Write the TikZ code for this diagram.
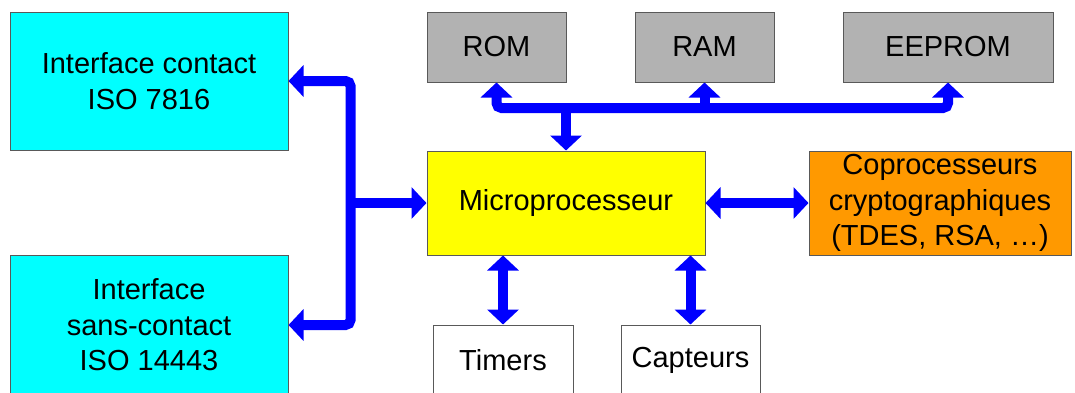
\documentclass[tikz,border=0pt]{standalone}
\usepackage{fontspec}
\setmainfont{Liberation Sans}
\usetikzlibrary{arrows.meta}
\definecolor{cyanbox}{RGB}{0,255,255}
\definecolor{graybox}{RGB}{178,178,178}
\definecolor{yellowbox}{RGB}{255,255,0}
\definecolor{orangebox}{RGB}{255,153,0}
\definecolor{busblue}{RGB}{0,0,255}
\begin{document}
\begin{tikzpicture}[x=1pt,y=-1pt,
  box/.style={draw=black!65, line width=1pt, inner sep=0pt, align=center,
    font=\fontsize{29}{35.5}\selectfont},
  bus/.style={draw=busblue, line width=10pt, rounded corners=5pt},
  >={Triangle[width=31pt,length=15pt]}]
\clip (0,0) rectangle (1075,392);
\fill[white] (0,0) rectangle (1075,392);
\node[box, fill=cyanbox, minimum width=278pt, minimum height=138pt] (ic) at (149,81) {Interface contact\\ISO 7816};
\node[box, fill=cyanbox, minimum width=278pt, minimum height=140pt] (isc) at (149,325) {Interface\\sans-contact\\ISO 14443};
\node[box, fill=graybox, minimum width=139pt, minimum height=70pt] (rom) at (496.5,47) {ROM};
\node[box, fill=graybox, minimum width=139pt, minimum height=70pt] (ram) at (704.5,47) {RAM};
\node[box, fill=graybox, minimum width=210pt, minimum height=70pt] (eeprom) at (948,47) {EEPROM};
\node[box, fill=yellowbox, minimum width=278pt, minimum height=104pt] (mp) at (566,203) {Microprocesseur};
\node[box, fill=orangebox, minimum width=262pt, minimum height=104pt] (cop) at (940,203) {Coprocesseurs\\cryptographiques\\(TDES, RSA, …)};
\node[box, fill=white, minimum width=140pt, minimum height=70pt] (tim) at (503,360) {Timers};
\node[box, fill=white, minimum width=139pt, minimum height=70pt] (cap) at (690.5,360) {Capteurs};
\coordinate (lj) at (350,203);
\coordinate (tb) at (0,108);
% left bus
\draw[bus,<->] (ic.east) -- ++(62,0) |- (isc.east);
\draw[bus,->] (lj) -- (mp.west);
% top bus
\draw[bus,<->] (rom.south) -- (rom.south |- tb) -- (eeprom.south |- tb) -- (eeprom.south);
\draw[bus,->] (ram.south |- tb) -- (ram.south);
\draw[bus,->] (mp.north |- tb) -- (mp.north);
% others
\draw[bus,<->] (mp.east) -- (cop.west);
\draw[bus,<->] (tim.north |- mp.south) -- (tim.north);
\draw[bus,<->] (cap.north |- mp.south) -- (cap.north);
\end{tikzpicture}
\end{document}
